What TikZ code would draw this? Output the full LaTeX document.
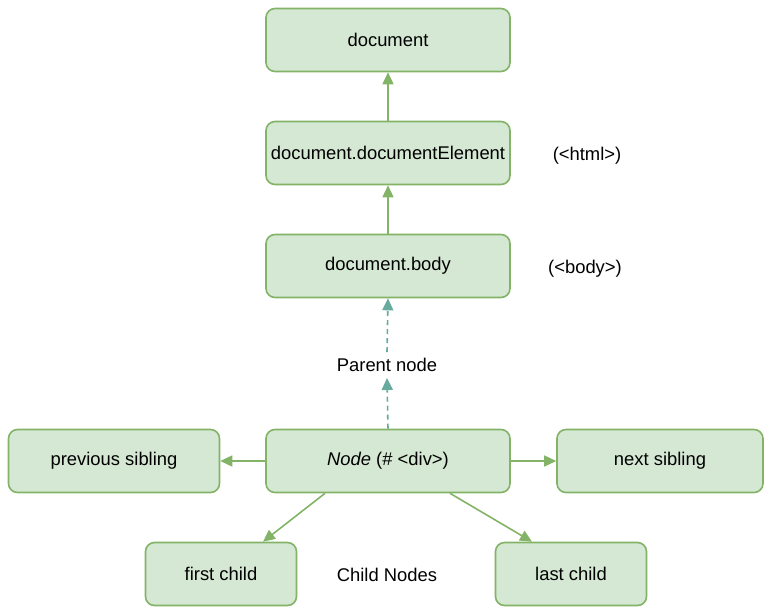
\documentclass[tikz,border=0pt]{standalone}
\usepackage{fontspec}
\setmainfont{Liberation Sans}
\usetikzlibrary{arrows.meta}
\definecolor{boxfill}{HTML}{D5E8D4}
\definecolor{boxline}{HTML}{82B366}
\definecolor{dashcol}{HTML}{67AB9F}
\tikzset{
  box/.style={draw=boxline, fill=boxfill, line width=1.6pt, rounded corners=9pt,
    minimum height=63pt, inner sep=0pt, font=\fontsize{18.4}{22}\selectfont, text=black},
  lbl/.style={font=\fontsize{18.4}{22}\selectfont, text=black, inner sep=2pt},
  arr/.style={draw=boxline, line width=1.6pt, -{Triangle[length=12pt,width=11pt]}},
  darr/.style={draw=dashcol, line width=1.6pt, dash pattern=on 5pt off 4pt, -{Triangle[length=12pt,width=11pt]}},
}
\begin{document}
\begin{tikzpicture}[x=1pt,y=-1pt]
\useasboundingbox (0,0) rectangle (764,606);
\node[box, minimum width=244pt] (doc) at (388,40) {document};
\node[box, minimum width=244pt] (elem) at (388,153) {document.documentElement};
\node[box, minimum width=244pt] (body) at (388,266) {document.body};
\node[box, minimum width=244pt] (node) at (388,461) {\textit{Node} (\# <div>)};
\node[box, minimum width=211pt] (prev) at (114,461) {previous sibling};
\node[box, minimum width=206pt] (next) at (660,461) {next sibling};
\node[box, minimum width=151pt] (first) at (221,574) {first child};
\node[box, minimum width=151pt] (last) at (571,574) {last child};
\node[lbl] (html) at (587,156) {(<html>)};
\node[lbl] (bodyl) at (585,269) {(<body>)};
\node[lbl] (parent) at (387,365) {Parent node};
\node[lbl] (childl) at (387,575) {Child Nodes};
\draw[arr] (elem) -- (doc);
\draw[arr] (body) -- (elem);
\draw[darr] (node.north) -- ([yshift=-4pt]parent.south);
\draw[darr] ([yshift=4pt]parent.north) -- (body.south);
\draw[arr] (node) -- (prev);
\draw[arr] (node) -- (next);
\draw[arr] ([xshift=-63pt]node.south) -- ([xshift=42pt]first.north);
\draw[arr] ([xshift=62pt]node.south) -- ([xshift=-39pt]last.north);
\end{tikzpicture}
\end{document}
